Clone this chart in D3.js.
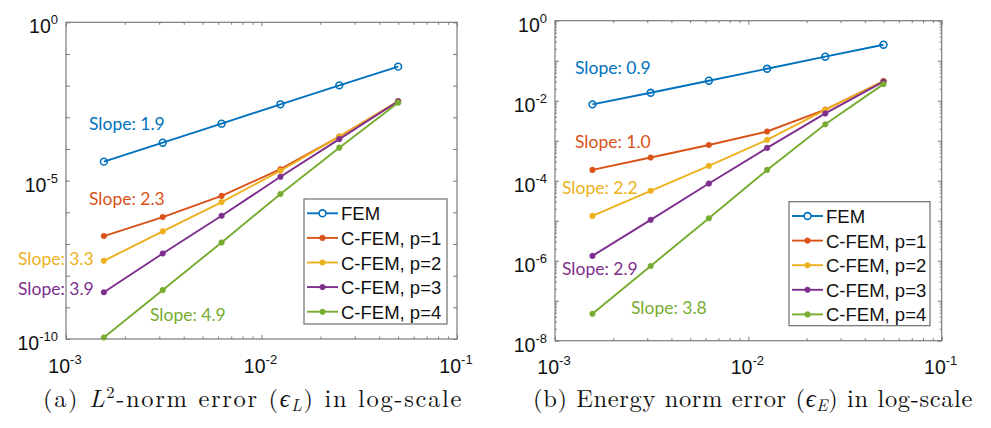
<!DOCTYPE html>
<html><head><meta charset="utf-8">
<script src="https://cdn.jsdelivr.net/npm/d3@7"></script>
<style>body{margin:0;background:#fff}svg{display:block}</style></head>
<body>
<svg id="c" width="991" height="428"></svg>
<script>
// ---------------- data ----------------
const hValues = [0.0015625, 0.003125, 0.00625, 0.0125, 0.025, 0.05];
const seriesNames = ["FEM", "C-FEM, p=1", "C-FEM, p=2", "C-FEM, p=3", "C-FEM, p=4"];
const seriesColors = ["#0072BD", "#D95319", "#EDB120", "#7E2F8E", "#77AC30"];

// (a) L2-norm error
const l2FEM = [3.98e-5, 1.58e-4, 6.3e-4, 2.57e-3, 1.02e-2, 3.98e-2];
const l2P1  = [1.78e-7, 7.1e-7, 3.3e-6, 2.3e-5, 2.45e-4, 3.2e-3];
const l2P2  = [2.95e-8, 2.5e-7, 2.1e-6, 2.05e-5, 2.45e-4, 3.2e-3];
const l2P3  = [3.0e-9, 5.0e-8, 7.8e-7, 1.32e-5, 2.05e-4, 3.2e-3];
const l2P4  = [1.12e-10, 3.5e-9, 1.12e-7, 3.8e-6, 1.1e-4, 2.9e-3];
const l2Slopes = ["1.9", "2.3", "3.3", "3.9", "4.9"];

// (b) Energy norm error
const enFEM = [8.1e-3, 1.58e-2, 3.16e-2, 6.3e-2, 0.126, 0.251];
const enP1  = [1.86e-4, 3.8e-4, 7.8e-4, 1.7e-3, 6.0e-3, 3.1e-2];
const enP2  = [1.32e-5, 5.6e-5, 2.35e-4, 1.05e-3, 5.9e-3, 3.1e-2];
const enP3  = [1.32e-6, 1.05e-5, 8.5e-5, 6.6e-4, 4.8e-3, 3.0e-2];
const enP4  = [4.7e-8, 7.4e-7, 1.15e-5, 1.86e-4, 2.57e-3, 2.6e-2];
const enSlopes = ["0.9", "1.0", "2.2", "2.9", "3.8"];

const xTickExps = [-3, -2, -1];
const l2YTickExps = [0, -1, -2, -3, -4, -5, -6, -7, -8, -9, -10];
const l2YLabelExps = [0, -5, -10];
const enYTickExps = [0, -1, -2, -3, -4, -5, -6, -7, -8];
const enYLabelExps = [0, -2, -4, -6, -8];

// ---------------- layout ----------------
const panels = [
  { x0: 66, x1: 457, y0: 22.3, y1: 339, yDomain: [1e-10, 1],
    series: [l2FEM, l2P1, l2P2, l2P3, l2P4], slopes: l2Slopes,
    yTicks: l2YTickExps, yLabels: l2YLabelExps, minorY: false,
    slopePos: [[89, 130], [89, 205], [18, 265], [18, 295], [150, 321]],
    legend: { x: 304, y: 199, w: 143, h: 125 } },
  { x0: 555, x1: 941.7, y0: 20.7, y1: 340.7, yDomain: [1e-8, 1],
    series: [enFEM, enP1, enP2, enP3, enP4], slopes: enSlopes,
    yTicks: enYTickExps, yLabels: enYLabelExps, minorY: true,
    slopePos: [[575, 74], [575, 148], [562, 194], [562, 275], [631, 314]],
    legend: { x: 789, y: 201.7, w: 141, h: 124 } }
];

const svg = d3.select("#c");
const axisColor = "#7a7a7a";
const tickFont = "'Liberation Sans', Arial, sans-serif";

function minorVals(lo, hi) {
  const v = [];
  for (let e = lo; e < hi; e++) for (let m = 2; m <= 9; m++) v.push(m * Math.pow(10, e));
  return v;
}

panels.forEach(p => {
  const x = d3.scaleLog().domain([1e-3, 1e-1]).range([p.x0, p.x1]);
  const y = d3.scaleLog().domain(p.yDomain).range([p.y1, p.y0]);
  const g = svg.append("g");

  const styleAxis = sel => {
    sel.select(".domain").remove();
    sel.selectAll("line").attr("stroke", axisColor).attr("stroke-width", 1);
    sel.selectAll("text").remove();
  };
  const xMaj = xTickExps.map(e => Math.pow(10, e));
  const xMin = minorVals(-3, -1);
  const yMaj = p.yTicks.map(e => Math.pow(10, e));
  const yMin = p.minorY ? minorVals(Math.log10(p.yDomain[0]), 0) : [];

  // ticks on all four sides, pointing inward
  g.append("g").attr("transform", `translate(0,${p.y1})`).call(d3.axisBottom(x).tickValues(xMaj).tickSize(-4)).call(styleAxis);
  g.append("g").attr("transform", `translate(0,${p.y1})`).call(d3.axisBottom(x).tickValues(xMin).tickSize(-2.5)).call(styleAxis);
  g.append("g").attr("transform", `translate(0,${p.y0})`).call(d3.axisTop(x).tickValues(xMaj).tickSize(-4)).call(styleAxis);
  g.append("g").attr("transform", `translate(0,${p.y0})`).call(d3.axisTop(x).tickValues(xMin).tickSize(-2.5)).call(styleAxis);
  g.append("g").attr("transform", `translate(${p.x0},0)`).call(d3.axisLeft(y).tickValues(yMaj).tickSize(-4)).call(styleAxis);
  g.append("g").attr("transform", `translate(${p.x1},0)`).call(d3.axisRight(y).tickValues(yMaj).tickSize(-4)).call(styleAxis);
  if (yMin.length) {
    g.append("g").attr("transform", `translate(${p.x0},0)`).call(d3.axisLeft(y).tickValues(yMin).tickSize(-2)).call(styleAxis);
    g.append("g").attr("transform", `translate(${p.x1},0)`).call(d3.axisRight(y).tickValues(yMin).tickSize(-2)).call(styleAxis);
  }

  // box
  g.append("rect").attr("x", p.x0).attr("y", p.y0).attr("width", p.x1 - p.x0).attr("height", p.y1 - p.y0)
    .attr("fill", "none").attr("stroke", axisColor).attr("stroke-width", 1.2);

  // tick labels
  const pow = (t, e) => {
    t.append("tspan").text("10");
    t.append("tspan").attr("dy", -9).attr("font-size", 13).text(String(e));
  };
  xTickExps.forEach(e => {
    const t = g.append("text").attr("x", x(Math.pow(10, e)) - 1).attr("y", p.y1 + 33.5)
      .attr("text-anchor", "middle").attr("font-family", tickFont).attr("font-size", 19.5).attr("fill", "#111");
    pow(t, e);
  });
  p.yLabels.forEach(e => {
    const t = g.append("text").attr("x", p.x0 - 8).attr("y", y(Math.pow(10, e)) + 11)
      .attr("text-anchor", "end").attr("font-family", tickFont).attr("font-size", 19.5).attr("fill", "#111");
    pow(t, e);
  });

  // series
  const line = d3.line().x((d, i) => x(hValues[i])).y(d => y(d));
  p.series.forEach((s, k) => {
    g.append("path").datum(s).attr("d", line).attr("fill", "none")
      .attr("stroke", seriesColors[k]).attr("stroke-width", 1.9);
    g.selectAll(null).data(s).enter().append("circle")
      .attr("cx", (d, i) => x(hValues[i])).attr("cy", d => y(d))
      .attr("r", k === 0 ? 3.4 : 2.8)
      .attr("fill", k === 0 ? "none" : seriesColors[k])
      .attr("stroke", seriesColors[k]).attr("stroke-width", k === 0 ? 1.6 : 0.5);
  });

  // slope labels
  p.slopes.forEach((s, k) => {
    g.append("text").attr("x", p.slopePos[k][0]).attr("y", p.slopePos[k][1])
      .attr("font-family", "Lato, 'Open Sans', sans-serif").attr("font-size", 17.5)
      .attr("fill", seriesColors[k]).text("Slope: " + s);
  });

  // legend
  const L = p.legend;
  const lg = g.append("g");
  lg.append("rect").attr("x", L.x).attr("y", L.y).attr("width", L.w).attr("height", L.h)
    .attr("fill", "#fff").attr("stroke", "#6e6e6e").attr("stroke-width", 1.2);
  seriesNames.forEach((n, k) => {
    const cy = L.y + 14.3 + k * 24.6;
    lg.append("line").attr("x1", L.x + 3).attr("x2", L.x + 34).attr("y1", cy).attr("y2", cy)
      .attr("stroke", seriesColors[k]).attr("stroke-width", 1.9);
    lg.append("circle").attr("cx", L.x + 18.5).attr("cy", cy).attr("r", k === 0 ? 3.4 : 2.8)
      .attr("fill", k === 0 ? "#fff" : seriesColors[k]).attr("stroke", seriesColors[k])
      .attr("stroke-width", k === 0 ? 1.6 : 0.5);
    lg.append("text").attr("x", L.x + 37).attr("y", cy + 7)
      .attr("font-family", tickFont).attr("font-size", 18.5).attr("fill", "#111").text(n);
  });
});

// ---------------- captions ----------------
const serif = "'Latin Modern Roman', 'CMU Serif', 'Liberation Serif', 'DejaVu Serif', serif";
function caption(x0, x1, baseline, parts) {
  const base = 22;
  const t = svg.append("text").attr("x", x0).attr("y", baseline)
    .attr("font-family", serif).attr("font-size", base).attr("fill", "#111");
  let n = 0;
  parts.forEach(pt => {
    const s = t.append("tspan").text(pt.t);
    n += pt.t.length;
    if (pt.i) s.attr("font-style", "italic");
    if (pt.dy) s.attr("dy", pt.dy);
    if (pt.fs) s.attr("font-size", pt.fs);
  });
  const w0 = t.node().getComputedTextLength();
  const fs = Math.min(24.5, base * (x1 - x0) / w0);
  const k = fs / base;
  t.attr("font-size", fs);
  t.selectAll("tspan").each(function (d, i) {
    const pt = parts[i];
    if (pt.fs) d3.select(this).attr("font-size", pt.fs * k);
    if (pt.dy) d3.select(this).attr("dy", pt.dy * k);
  });
  const w = t.node().getComputedTextLength();
  t.attr("letter-spacing", Math.max(0, ((x1 - x0) - w) / n));
}
caption(43, 463, 407, [
  { t: "(a) " }, { t: "L", i: true }, { t: "2", dy: -8, fs: 15 }, { t: "-norm error (", dy: 8 },
  { t: "\u03F5", i: true }, { t: "L", i: true, dy: 4, fs: 15 }, { t: ") in log-scale", dy: -4 }
]);
caption(533, 973, 407, [
  { t: "(b) Energy norm error (" }, { t: "\u03F5", i: true }, { t: "E", i: true, dy: 4, fs: 15 },
  { t: ") in log-scale", dy: -4 }
]);
</script>
</body></html>
